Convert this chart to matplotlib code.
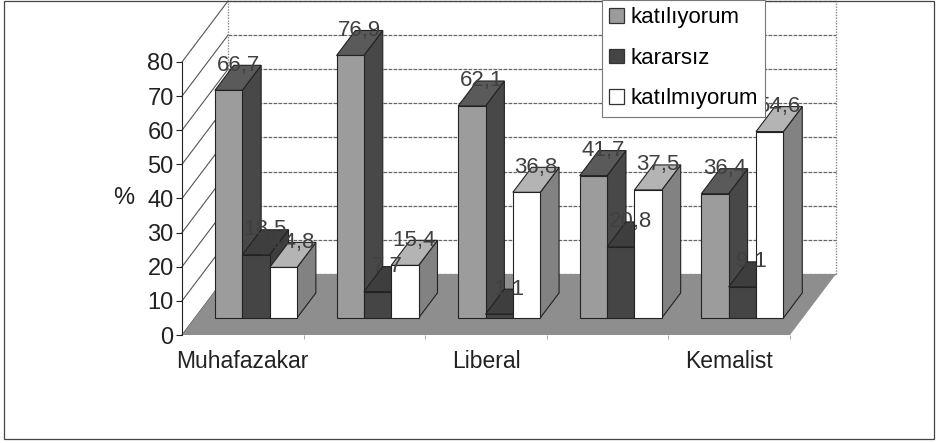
import matplotlib
matplotlib.use('Agg')
import matplotlib.pyplot as plt
from matplotlib.patches import Patch, Rectangle

plt.rcParams['font.family'] = ['Liberation Sans', 'DejaVu Sans']

# veriler
categories = ['Muhafazakar', '', 'Liberal', '', 'Kemalist']
katiliyorum = [66.7, 76.9, 62.1, 41.7, 36.4]
kararsiz = [18.5, 7.7, 1.1, 20.8, 9.1]
katilmiyorum = [14.8, 15.4, 36.8, 37.5, 54.6]
series_names = ['katılıyorum', 'kararsız', 'katılmıyorum']
y_ticks = [0, 10, 20, 30, 40, 50, 60, 70, 80]

# (front, top, side)
colors = [('#9c9c9c', '#5a5a5a', '#484848'),
          ('#454545', '#3e3e3e', '#3e3e3e'),
          ('#ffffff', '#b4b4b4', '#828282')]

W, H = 941, 443
DX = 46 / 121.6      # derinlik, x birimi
DY = 61 / 3.4125     # derinlik, y birimi
D0, D1 = 0.28, 0.69  # sütunun taban derinliği
BAR_W = 0.225
BAR_START = 0.165


def proj(x, y, d):
    return x + d * DX, y + d * DY


def face(ax, pts, color, z, edge='#222222', lw=0.8):
    xs, ys = zip(*[proj(*p) for p in pts])
    ax.fill(xs, ys, facecolor=color, edgecolor=edge, linewidth=lw, zorder=z, clip_on=False)


def bar3d(ax, x0, v, cols, z):
    x1 = x0 + BAR_W
    face(ax, [(x1, 0, D0), (x1, 0, D1), (x1, v, D1), (x1, v, D0)], cols[2], z)
    face(ax, [(x0, v, D0), (x1, v, D0), (x1, v, D1), (x0, v, D1)], cols[1], z)
    face(ax, [(x0, 0, D0), (x1, 0, D0), (x1, v, D0), (x0, v, D0)], cols[0], z)


fig = plt.figure(figsize=(W / 100, H / 100), dpi=100)
ax = fig.add_axes([182 / W, (H - 335) / H, 608 / W, 273 / H])
ax.set_xlim(0, 5)
ax.set_ylim(0, 80)
ax.patch.set_alpha(0)
for s in ['top', 'right', 'bottom']:
    ax.spines[s].set_visible(False)
ax.spines['left'].set_color('#222222')

# zemin ve duvarlar
face(ax, [(0, 0, 0), (5, 0, 0), (5, 0, 1), (0, 0, 1)], '#8e8e8e', 1, edge='none', lw=0)
for v in y_ticks:
    bx, by = proj(0, v, 1)
    ex, ey = proj(5, v, 1)
    fx, fy = proj(0, v, 0)
    ax.plot([bx, ex], [by, ey], color='#666666', lw=0.9, ls=(0, (3, 1)), zorder=0.5, clip_on=False)
    ax.plot([fx, bx], [fy, by], color='#555555', lw=0.8, zorder=0.5, clip_on=False)
for x in [0, 5]:
    bx, by = proj(x, 0, 1)
    ex, ey = proj(x, 80, 1)
    ax.plot([bx, ex], [by, ey], color='#888888', lw=1.0, ls=(0, (1, 1)), zorder=0.5, clip_on=False)

# sütunlar
all_values = [katiliyorum, kararsiz, katilmiyorum]
for i in range(len(categories)):
    for j, vals in enumerate(all_values):
        bar3d(ax, i + BAR_START + j * BAR_W, vals[i], colors[j], 2 + i + j * 0.1)

# değer etiketleri
for i in range(len(categories)):
    for j, vals in enumerate(all_values):
        tx, ty = proj(i + BAR_START + (j + 0.5) * BAR_W, vals[i], 0.5 * (D0 + D1))
        ax.text(tx, vals[i] + D1 * DY, f'{vals[i]:.1f}'.replace('.', ','), ha='center', va='center',
                fontsize=16, color='#404040', zorder=10, clip_on=False)

# eksenler
ax.set_yticks(y_ticks)
ax.tick_params(axis='y', labelsize=17, length=4, width=0.8, color='#222222', labelcolor='#222222', pad=2)
ax.set_xticks([i + 0.5 for i in range(5)], categories)
ax.set_xticks(range(1, 6), minor=True)
ax.tick_params(axis='x', which='major', length=0, labelsize=16.5, labelcolor='#222222', pad=11)
ax.tick_params(axis='x', which='minor', length=3, width=0.6, color='#999999')
fig.text(124 / W, (H - 198) / H, '%', fontsize=17, color='#222222', ha='center', va='center')

# gösterge
handles = [Patch(facecolor=colors[k][0], edgecolor='#333333', linewidth=0.9, label=series_names[k]) for k in range(3)]
leg = fig.legend(handles=handles, loc='upper left', bbox_to_anchor=(602 / W, 1.0), fontsize=16,
                 frameon=True, fancybox=False, framealpha=1, edgecolor='#777777',
                 borderpad=0.33, labelspacing=0.88, handlelength=0.65, handleheight=0.65,
                 handletextpad=0.3, borderaxespad=0)
leg.set_zorder(20)
leg.get_frame().set_linewidth(0.8)

# çerçeve
fig.add_artist(Rectangle((4 / W, (H - 439) / H), 930 / W, 438.5 / H, transform=fig.transFigure,
                         fill=False, edgecolor='#444444', linewidth=0.9))

fig.savefig('out.png', dpi=100)
